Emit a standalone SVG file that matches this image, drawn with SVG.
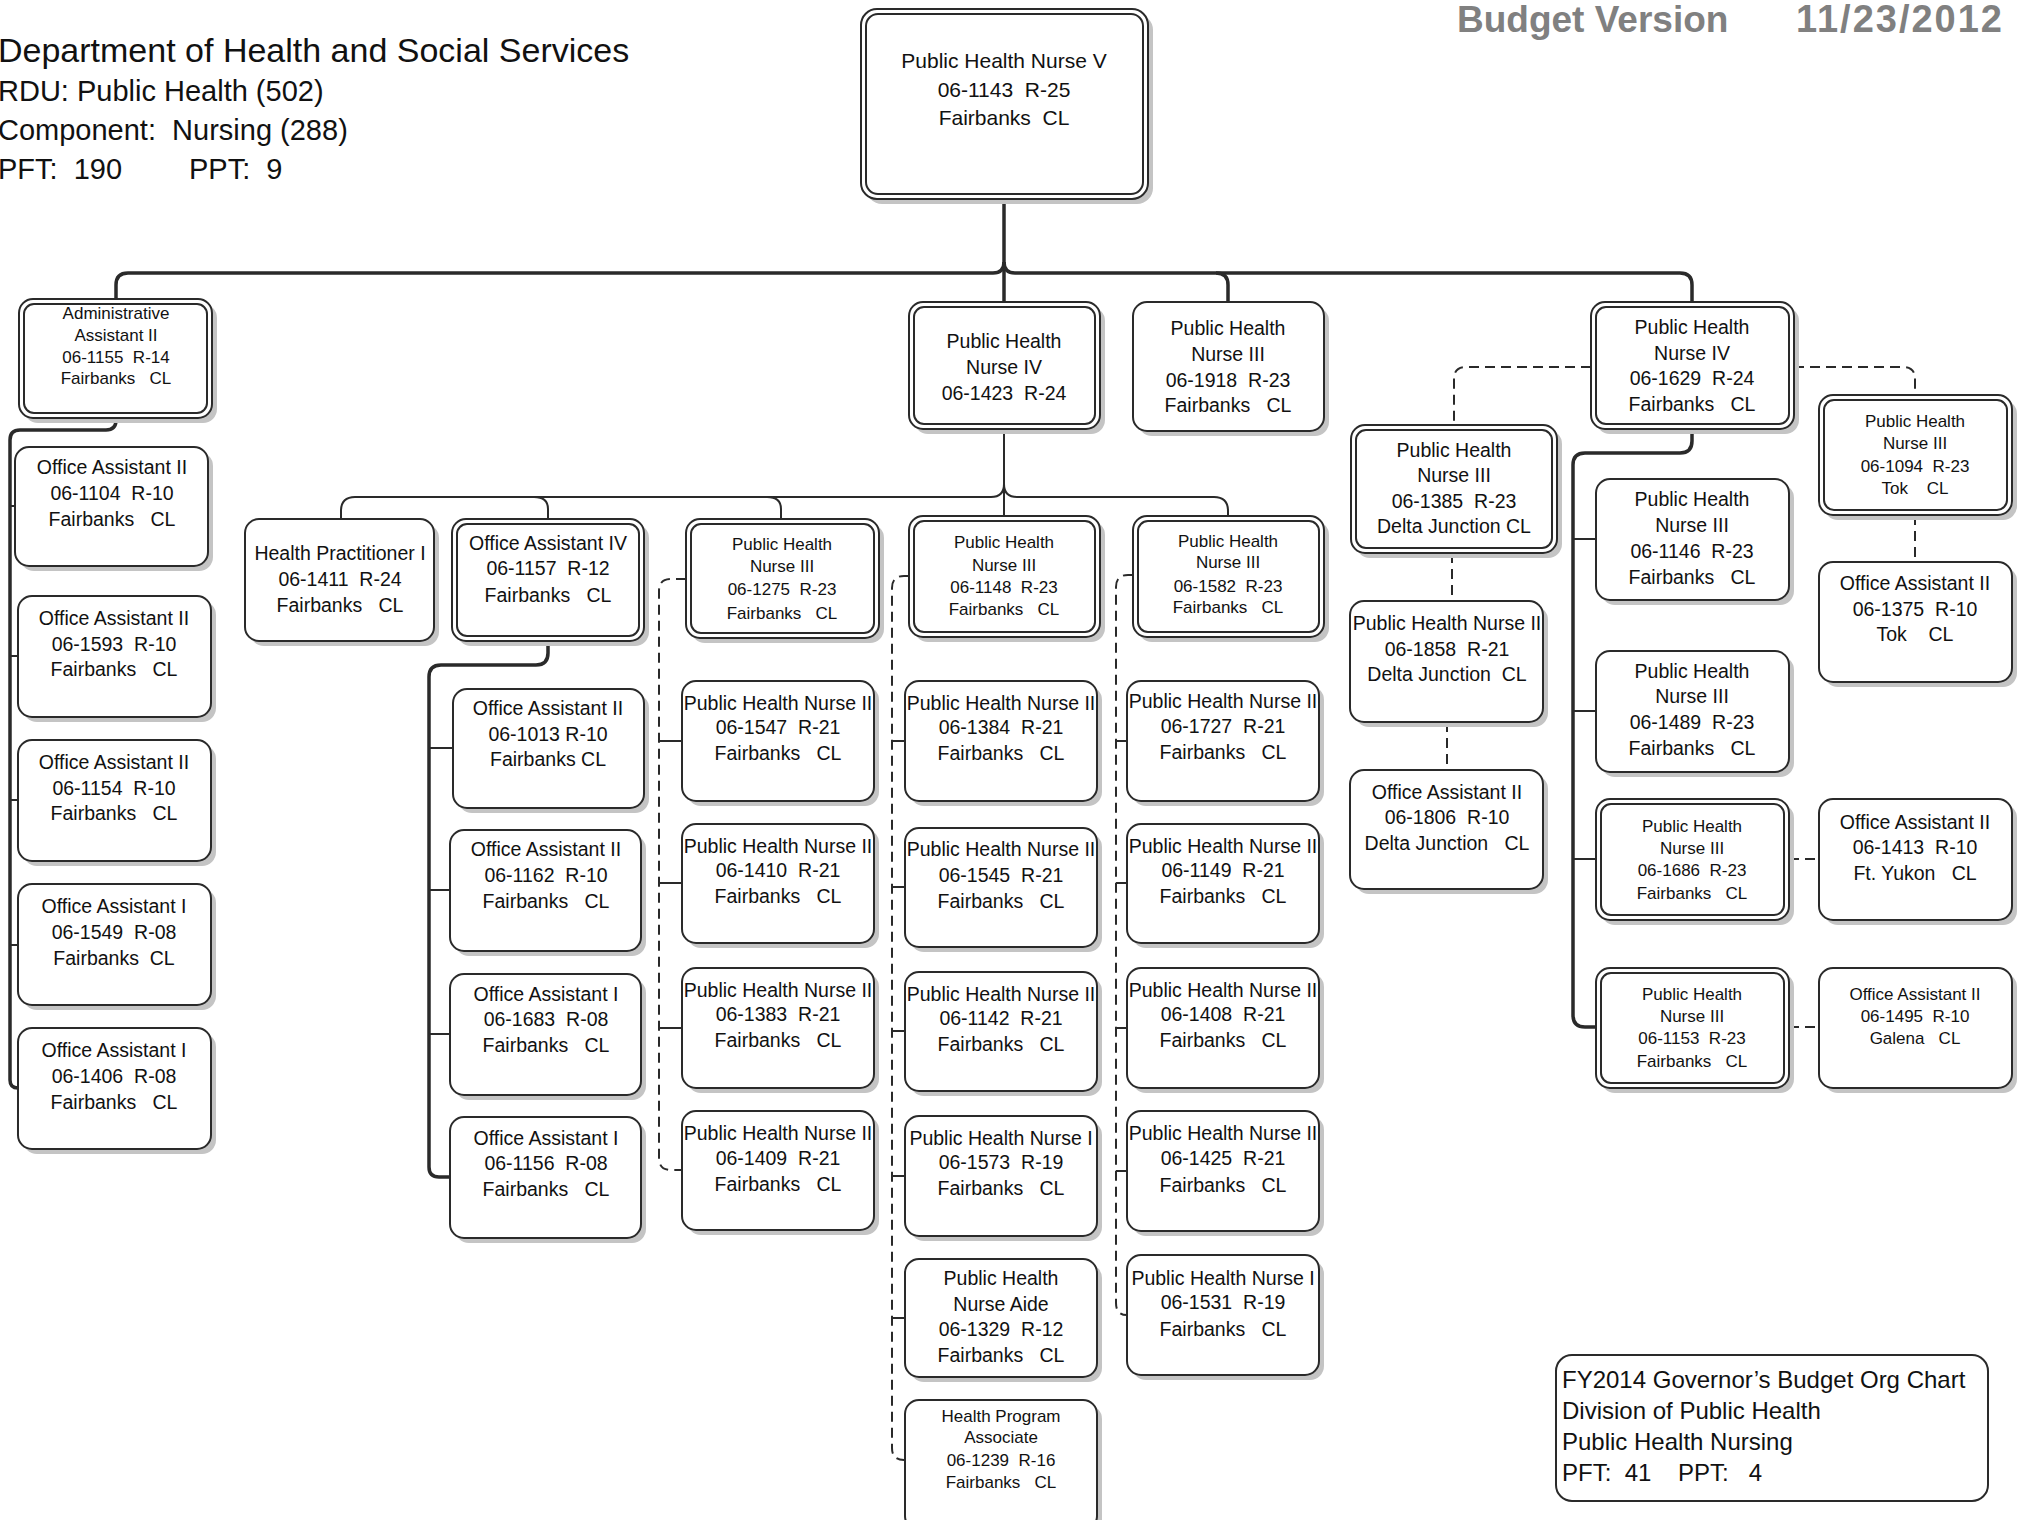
<svg xmlns="http://www.w3.org/2000/svg" width="2018" height="1520" viewBox="0 0 2018 1520">
<style>
.sh{fill:#c4c4c4}
.bx{fill:#fff;stroke:#2a2a2a;stroke-width:2}
.in{fill:none;stroke:#2a2a2a;stroke-width:2}
.t{font-family:"Liberation Sans",Arial,sans-serif;font-size:19.5px;text-anchor:middle;fill:#111;white-space:pre}
.s{font-size:17px}
.b{font-size:21px}
.c{fill:none;stroke:#2a2a2a;stroke-width:2}
.k{stroke-width:3.5}
.d{stroke-dasharray:10 6}
.hd{font-family:"Liberation Sans",Arial,sans-serif;font-size:34px;fill:#111;white-space:pre}
.hs{font-size:29px}
.bv{font-family:"Liberation Sans",Arial,sans-serif;font-size:37px;font-weight:bold;fill:#808080;white-space:pre}
.ib{font-family:"Liberation Sans",Arial,sans-serif;font-size:24px;fill:#111;white-space:pre}
</style>
<rect width="2018" height="1520" fill="#fff"/>

<g id="header">
<text class="hd" x="-2" y="62">Department of Health and Social Services</text>
<text class="hd hs" x="-2" y="101">RDU: Public Health (502)</text>
<text class="hd hs" x="-2" y="140">Component:  Nursing (288)</text>
<text class="hd hs" x="-2" y="179">PFT:  190<tspan x="189">PPT:  9</tspan></text>
<text class="bv" x="1457" y="32">Budget Version</text>
<text class="bv" x="2004" y="32" text-anchor="end" style="font-size:38px;letter-spacing:2px">11/23/2012</text>
</g>

<g id="connectors">
<!-- main -->
<path class="c k" d="M1004,199 V302"/>
<path class="c k" d="M1004,262 Q1004,273 993,273 H128 Q116,273 116,285 V299"/>
<path class="c k" d="M1004,262 Q1004,273 1015,273 H1680 Q1692,273 1692,285 V302"/>
<path class="c k" d="M1216,273 Q1228,273 1228,285 V302"/>
<!-- admin children -->
<path class="c k" d="M116,418 V420 Q116,430 106,430 H20 Q10,430 10,440 V1080 Q10,1088 18,1088"/>
<path class="c" d="M10,506 H15 M10,656 H18 M10,800 H18 M10,945 H18"/>
<!-- PHN IV 1423 children -->
<path class="c" d="M1004,429 V516"/>
<path class="c" d="M1004,484 Q1004,497 991,497 H355 Q341,497 341,511 V519"/>
<path class="c" d="M1004,484 Q1004,497 1017,497 H1214 Q1228,497 1228,511 V516"/>
<path class="c" d="M534,497 Q548,497 548,509 V519"/>
<path class="c" d="M767,497 Q781,497 781,509 V519"/>
<!-- OA IV children -->
<path class="c k" d="M548,641 V653 Q548,665 536,665 H441 Q429,665 429,677 V1167 Q429,1177 439,1177 H450"/>
<path class="c" d="M429,748 H453 M429,890 H450 M429,1034 H450"/>
<!-- dashed columns -->
<path class="c d" d="M686,579 H671 Q659,579 659,591 V1158 Q659,1170 671,1170 H682"/>
<path class="c" d="M659,741 H682 M659,883 H682 M659,1028 H682"/>
<path class="c d" d="M909,576 H904 Q892,576 892,588 V1448 Q892,1460 904,1460 H905"/>
<path class="c" d="M892,741 H905 M892,887 H905 M892,1031 H905 M892,1176 H905 M892,1318 H905"/>
<path class="c d" d="M1133,575 H1128 Q1116,575 1116,587 V1303 Q1116,1315 1127,1315"/>
<path class="c" d="M1116,741 H1127 M1116,883 H1127 M1116,1028 H1127 M1116,1171 H1127"/>
<!-- PHN IV 1629 -->
<path class="c d" d="M1591,367 H1466 Q1454,367 1454,379 V425"/>
<path class="c d" d="M1794,367 H1903 Q1915,367 1915,379 V395"/>
<path class="c d" d="M1452,553 V601"/>
<path class="c d" d="M1447,722 V770"/>
<path class="c d" d="M1915,515 V562"/>
<path class="c k" d="M1692,429 V441 Q1692,453 1680,453 H1585 Q1573,453 1573,465 V1015 Q1573,1027 1585,1027 H1596"/>
<path class="c" d="M1573,539 H1596 M1573,711 H1596 M1573,859 H1596"/>
<path class="c d" d="M1789,859 H1819"/>
<path class="c d" d="M1789,1027 H1819"/>
</g>

<g id="n_phn5_1143">
<rect class="sh" x="866" y="14" width="287" height="190" rx="16"/>
<rect class="bx" x="861" y="9" width="287" height="190" rx="16"/>
<rect class="in" x="866" y="14" width="277" height="180" rx="12"/>
<text class="t b" x="1004" y="68">Public Health Nurse V</text>
<text class="t b" x="1004" y="97">06-1143  R-25</text>
<text class="t b" x="1004" y="125">Fairbanks  CL</text>
</g>

<g id="n_aa2_1155">
<rect class="sh" x="24" y="304" width="193" height="119" rx="14"/>
<rect class="bx" x="19" y="299" width="193" height="119" rx="14"/>
<rect class="in" x="24" y="304" width="183" height="109" rx="10"/>
<text class="t s" x="116" y="319">Administrative</text>
<text class="t s" x="116" y="341">Assistant II</text>
<text class="t s" x="116" y="363">06-1155  R-14</text>
<text class="t s" x="116" y="384">Fairbanks   CL</text>
</g>

<g id="n_phn4_1423">
<rect class="sh" x="914" y="307" width="191" height="127" rx="14"/>
<rect class="bx" x="909" y="302" width="191" height="127" rx="14"/>
<rect class="in" x="914" y="307" width="181" height="117" rx="10"/>
<text class="t" x="1004" y="348">Public Health</text>
<text class="t" x="1004" y="374">Nurse IV</text>
<text class="t" x="1004" y="400">06-1423  R-24</text>
</g>

<g id="n_phn3_1918">
<rect class="sh" x="1138" y="307" width="191" height="129" rx="14"/>
<rect class="bx" x="1133" y="302" width="191" height="129" rx="14"/>
<text class="t" x="1228" y="335">Public Health</text>
<text class="t" x="1228" y="361">Nurse III</text>
<text class="t" x="1228" y="387">06-1918  R-23</text>
<text class="t" x="1228" y="412">Fairbanks   CL</text>
</g>

<g id="n_phn4_1629">
<rect class="sh" x="1596" y="307" width="203" height="127" rx="14"/>
<rect class="bx" x="1591" y="302" width="203" height="127" rx="14"/>
<rect class="in" x="1596" y="307" width="193" height="117" rx="10"/>
<text class="t" x="1692" y="334">Public Health</text>
<text class="t" x="1692" y="360">Nurse IV</text>
<text class="t" x="1692" y="385">06-1629  R-24</text>
<text class="t" x="1692" y="411">Fairbanks   CL</text>
</g>

<g id="n_oa2_1104">
<rect class="sh" x="20" y="452" width="193" height="119" rx="14"/>
<rect class="bx" x="15" y="447" width="193" height="119" rx="14"/>
<text class="t" x="112" y="474">Office Assistant II</text>
<text class="t" x="112" y="500">06-1104  R-10</text>
<text class="t" x="112" y="526">Fairbanks   CL</text>
</g>
<g id="n_oa2_1593">
<rect class="sh" x="23" y="601" width="193" height="121" rx="14"/>
<rect class="bx" x="18" y="596" width="193" height="121" rx="14"/>
<text class="t" x="114" y="625">Office Assistant II</text>
<text class="t" x="114" y="651">06-1593  R-10</text>
<text class="t" x="114" y="676">Fairbanks   CL</text>
</g>
<g id="n_oa2_1154">
<rect class="sh" x="23" y="745" width="193" height="121" rx="14"/>
<rect class="bx" x="18" y="740" width="193" height="121" rx="14"/>
<text class="t" x="114" y="769">Office Assistant II</text>
<text class="t" x="114" y="795">06-1154  R-10</text>
<text class="t" x="114" y="820">Fairbanks   CL</text>
</g>
<g id="n_oa1_1549">
<rect class="sh" x="23" y="889" width="193" height="121" rx="14"/>
<rect class="bx" x="18" y="884" width="193" height="121" rx="14"/>
<text class="t" x="114" y="913">Office Assistant I</text>
<text class="t" x="114" y="939">06-1549  R-08</text>
<text class="t" x="114" y="965">Fairbanks  CL</text>
</g>
<g id="n_oa1_1406">
<rect class="sh" x="23" y="1033" width="193" height="121" rx="14"/>
<rect class="bx" x="18" y="1028" width="193" height="121" rx="14"/>
<text class="t" x="114" y="1057">Office Assistant I</text>
<text class="t" x="114" y="1083">06-1406  R-08</text>
<text class="t" x="114" y="1109">Fairbanks   CL</text>
</g>

<g id="n_hp1_1411">
<rect class="sh" x="250" y="524" width="189" height="122" rx="14"/>
<rect class="bx" x="245" y="519" width="189" height="122" rx="14"/>
<text class="t" x="340" y="560">Health Practitioner I</text>
<text class="t" x="340" y="586">06-1411  R-24</text>
<text class="t" x="340" y="612">Fairbanks   CL</text>
</g>
<g id="n_oa4_1157">
<rect class="sh" x="457" y="524" width="192" height="122" rx="14"/>
<rect class="bx" x="452" y="519" width="192" height="122" rx="14"/>
<rect class="in" x="457" y="524" width="182" height="112" rx="10"/>
<text class="t" x="548" y="550">Office Assistant IV</text>
<text class="t" x="548" y="575">06-1157  R-12</text>
<text class="t" x="548" y="602">Fairbanks   CL</text>
</g>
<g id="n_phn3_1275">
<rect class="sh" x="691" y="524" width="193" height="119" rx="14"/>
<rect class="bx" x="686" y="519" width="193" height="119" rx="14"/>
<rect class="in" x="691" y="524" width="183" height="109" rx="10"/>
<text class="t s" x="782" y="550">Public Health</text>
<text class="t s" x="782" y="572">Nurse III</text>
<text class="t s" x="782" y="595">06-1275  R-23</text>
<text class="t s" x="782" y="619">Fairbanks   CL</text>
</g>
<g id="n_phn3_1148">
<rect class="sh" x="914" y="521" width="191" height="121" rx="14"/>
<rect class="bx" x="909" y="516" width="191" height="121" rx="14"/>
<rect class="in" x="914" y="521" width="181" height="111" rx="10"/>
<text class="t s" x="1004" y="548">Public Health</text>
<text class="t s" x="1004" y="571">Nurse III</text>
<text class="t s" x="1004" y="593">06-1148  R-23</text>
<text class="t s" x="1004" y="615">Fairbanks   CL</text>
</g>
<g id="n_phn3_1582">
<rect class="sh" x="1138" y="521" width="191" height="121" rx="14"/>
<rect class="bx" x="1133" y="516" width="191" height="121" rx="14"/>
<rect class="in" x="1138" y="521" width="181" height="111" rx="10"/>
<text class="t s" x="1228" y="547">Public Health</text>
<text class="t s" x="1228" y="568">Nurse III</text>
<text class="t s" x="1228" y="592">06-1582  R-23</text>
<text class="t s" x="1228" y="613">Fairbanks   CL</text>
</g>

<g id="n_oa2_1013">
<rect class="sh" x="458" y="694" width="191" height="119" rx="14"/>
<rect class="bx" x="453" y="689" width="191" height="119" rx="14"/>
<text class="t" x="548" y="715">Office Assistant II</text>
<text class="t" x="548" y="741">06-1013 R-10</text>
<text class="t" x="548" y="766">Fairbanks CL</text>
</g>
<g id="n_oa2_1162">
<rect class="sh" x="455" y="835" width="191" height="121" rx="14"/>
<rect class="bx" x="450" y="830" width="191" height="121" rx="14"/>
<text class="t" x="546" y="856">Office Assistant II</text>
<text class="t" x="546" y="882">06-1162  R-10</text>
<text class="t" x="546" y="908">Fairbanks   CL</text>
</g>
<g id="n_oa1_1683">
<rect class="sh" x="455" y="979" width="191" height="121" rx="14"/>
<rect class="bx" x="450" y="974" width="191" height="121" rx="14"/>
<text class="t" x="546" y="1001">Office Assistant I</text>
<text class="t" x="546" y="1026">06-1683  R-08</text>
<text class="t" x="546" y="1052">Fairbanks   CL</text>
</g>
<g id="n_oa1_1156">
<rect class="sh" x="455" y="1122" width="191" height="121" rx="14"/>
<rect class="bx" x="450" y="1117" width="191" height="121" rx="14"/>
<text class="t" x="546" y="1145">Office Assistant I</text>
<text class="t" x="546" y="1170">06-1156  R-08</text>
<text class="t" x="546" y="1196">Fairbanks   CL</text>
</g>

<g id="n_phn2_1547">
<rect class="sh" x="687" y="686" width="192" height="120" rx="14"/>
<rect class="bx" x="682" y="681" width="192" height="120" rx="14"/>
<text class="t" x="778" y="710">Public Health Nurse II</text>
<text class="t" x="778" y="734">06-1547  R-21</text>
<text class="t" x="778" y="760">Fairbanks   CL</text>
</g>
<g id="n_phn2_1410">
<rect class="sh" x="687" y="829" width="192" height="119" rx="14"/>
<rect class="bx" x="682" y="824" width="192" height="119" rx="14"/>
<text class="t" x="778" y="853">Public Health Nurse II</text>
<text class="t" x="778" y="877">06-1410  R-21</text>
<text class="t" x="778" y="903">Fairbanks   CL</text>
</g>
<g id="n_phn2_1383">
<rect class="sh" x="687" y="973" width="192" height="120" rx="14"/>
<rect class="bx" x="682" y="968" width="192" height="120" rx="14"/>
<text class="t" x="778" y="997">Public Health Nurse II</text>
<text class="t" x="778" y="1021">06-1383  R-21</text>
<text class="t" x="778" y="1047">Fairbanks   CL</text>
</g>
<g id="n_phn2_1409">
<rect class="sh" x="687" y="1116" width="192" height="119" rx="14"/>
<rect class="bx" x="682" y="1111" width="192" height="119" rx="14"/>
<text class="t" x="778" y="1140">Public Health Nurse II</text>
<text class="t" x="778" y="1165">06-1409  R-21</text>
<text class="t" x="778" y="1191">Fairbanks   CL</text>
</g>

<g id="n_phn2_1384">
<rect class="sh" x="910" y="686" width="192" height="120" rx="14"/>
<rect class="bx" x="905" y="681" width="192" height="120" rx="14"/>
<text class="t" x="1001" y="710">Public Health Nurse II</text>
<text class="t" x="1001" y="734">06-1384  R-21</text>
<text class="t" x="1001" y="760">Fairbanks   CL</text>
</g>
<g id="n_phn2_1545">
<rect class="sh" x="910" y="833" width="192" height="119" rx="14"/>
<rect class="bx" x="905" y="828" width="192" height="119" rx="14"/>
<text class="t" x="1001" y="856">Public Health Nurse II</text>
<text class="t" x="1001" y="882">06-1545  R-21</text>
<text class="t" x="1001" y="908">Fairbanks   CL</text>
</g>
<g id="n_phn2_1142">
<rect class="sh" x="910" y="977" width="192" height="119" rx="14"/>
<rect class="bx" x="905" y="972" width="192" height="119" rx="14"/>
<text class="t" x="1001" y="1001">Public Health Nurse II</text>
<text class="t" x="1001" y="1025">06-1142  R-21</text>
<text class="t" x="1001" y="1051">Fairbanks   CL</text>
</g>
<g id="n_phn1_1573">
<rect class="sh" x="910" y="1121" width="192" height="120" rx="14"/>
<rect class="bx" x="905" y="1116" width="192" height="120" rx="14"/>
<text class="t" x="1001" y="1145">Public Health Nurse I</text>
<text class="t" x="1001" y="1169">06-1573  R-19</text>
<text class="t" x="1001" y="1195">Fairbanks   CL</text>
</g>
<g id="n_phna_1329">
<rect class="sh" x="910" y="1264" width="192" height="118" rx="14"/>
<rect class="bx" x="905" y="1259" width="192" height="118" rx="14"/>
<text class="t" x="1001" y="1285">Public Health</text>
<text class="t" x="1001" y="1311">Nurse Aide</text>
<text class="t" x="1001" y="1336">06-1329  R-12</text>
<text class="t" x="1001" y="1362">Fairbanks   CL</text>
</g>
<g id="n_hpa_1239">
<rect class="sh" x="910" y="1405" width="192" height="130" rx="14"/>
<rect class="bx" x="905" y="1400" width="192" height="130" rx="14"/>
<text class="t s" x="1001" y="1422">Health Program</text>
<text class="t s" x="1001" y="1443">Associate</text>
<text class="t s" x="1001" y="1466">06-1239  R-16</text>
<text class="t s" x="1001" y="1488">Fairbanks   CL</text>
</g>

<g id="n_phn2_1727">
<rect class="sh" x="1132" y="686" width="192" height="120" rx="14"/>
<rect class="bx" x="1127" y="681" width="192" height="120" rx="14"/>
<text class="t" x="1223" y="708">Public Health Nurse II</text>
<text class="t" x="1223" y="733">06-1727  R-21</text>
<text class="t" x="1223" y="759">Fairbanks   CL</text>
</g>
<g id="n_phn2_1149">
<rect class="sh" x="1132" y="829" width="192" height="119" rx="14"/>
<rect class="bx" x="1127" y="824" width="192" height="119" rx="14"/>
<text class="t" x="1223" y="853">Public Health Nurse II</text>
<text class="t" x="1223" y="877">06-1149  R-21</text>
<text class="t" x="1223" y="903">Fairbanks   CL</text>
</g>
<g id="n_phn2_1408">
<rect class="sh" x="1132" y="973" width="192" height="120" rx="14"/>
<rect class="bx" x="1127" y="968" width="192" height="120" rx="14"/>
<text class="t" x="1223" y="997">Public Health Nurse II</text>
<text class="t" x="1223" y="1021">06-1408  R-21</text>
<text class="t" x="1223" y="1047">Fairbanks   CL</text>
</g>
<g id="n_phn2_1425">
<rect class="sh" x="1132" y="1116" width="192" height="120" rx="14"/>
<rect class="bx" x="1127" y="1111" width="192" height="120" rx="14"/>
<text class="t" x="1223" y="1140">Public Health Nurse II</text>
<text class="t" x="1223" y="1165">06-1425  R-21</text>
<text class="t" x="1223" y="1192">Fairbanks   CL</text>
</g>
<g id="n_phn1_1531">
<rect class="sh" x="1132" y="1260" width="192" height="120" rx="14"/>
<rect class="bx" x="1127" y="1255" width="192" height="120" rx="14"/>
<text class="t" x="1223" y="1285">Public Health Nurse I</text>
<text class="t" x="1223" y="1309">06-1531  R-19</text>
<text class="t" x="1223" y="1336">Fairbanks   CL</text>
</g>

<g id="n_phn3_1385">
<rect class="sh" x="1356" y="430" width="206" height="128" rx="14"/>
<rect class="bx" x="1351" y="425" width="206" height="128" rx="14"/>
<rect class="in" x="1356" y="430" width="196" height="118" rx="10"/>
<text class="t" x="1454" y="457">Public Health</text>
<text class="t" x="1454" y="482">Nurse III</text>
<text class="t" x="1454" y="508">06-1385  R-23</text>
<text class="t" x="1454" y="533">Delta Junction CL</text>
</g>
<g id="n_phn2_1858">
<rect class="sh" x="1355" y="606" width="193" height="121" rx="14"/>
<rect class="bx" x="1350" y="601" width="193" height="121" rx="14"/>
<text class="t" x="1447" y="630">Public Health Nurse II</text>
<text class="t" x="1447" y="656">06-1858  R-21</text>
<text class="t" x="1447" y="681">Delta Junction  CL</text>
</g>
<g id="n_oa2_1806">
<rect class="sh" x="1355" y="775" width="193" height="119" rx="14"/>
<rect class="bx" x="1350" y="770" width="193" height="119" rx="14"/>
<text class="t" x="1447" y="799">Office Assistant II</text>
<text class="t" x="1447" y="824">06-1806  R-10</text>
<text class="t" x="1447" y="850">Delta Junction   CL</text>
</g>

<g id="n_phn3_1146">
<rect class="sh" x="1601" y="484" width="193" height="121" rx="14"/>
<rect class="bx" x="1596" y="479" width="193" height="121" rx="14"/>
<text class="t" x="1692" y="506">Public Health</text>
<text class="t" x="1692" y="532">Nurse III</text>
<text class="t" x="1692" y="558">06-1146  R-23</text>
<text class="t" x="1692" y="584">Fairbanks   CL</text>
</g>
<g id="n_phn3_1489">
<rect class="sh" x="1601" y="656" width="193" height="121" rx="14"/>
<rect class="bx" x="1596" y="651" width="193" height="121" rx="14"/>
<text class="t" x="1692" y="678">Public Health</text>
<text class="t" x="1692" y="703">Nurse III</text>
<text class="t" x="1692" y="729">06-1489  R-23</text>
<text class="t" x="1692" y="755">Fairbanks   CL</text>
</g>
<g id="n_phn3_1686">
<rect class="sh" x="1601" y="804" width="193" height="121" rx="14"/>
<rect class="bx" x="1596" y="799" width="193" height="121" rx="14"/>
<rect class="in" x="1601" y="804" width="183" height="111" rx="10"/>
<text class="t s" x="1692" y="832">Public Health</text>
<text class="t s" x="1692" y="854">Nurse III</text>
<text class="t s" x="1692" y="876">06-1686  R-23</text>
<text class="t s" x="1692" y="899">Fairbanks   CL</text>
</g>
<g id="n_phn3_1153">
<rect class="sh" x="1601" y="973" width="193" height="120" rx="14"/>
<rect class="bx" x="1596" y="968" width="193" height="120" rx="14"/>
<rect class="in" x="1601" y="973" width="183" height="110" rx="10"/>
<text class="t s" x="1692" y="1000">Public Health</text>
<text class="t s" x="1692" y="1022">Nurse III</text>
<text class="t s" x="1692" y="1044">06-1153  R-23</text>
<text class="t s" x="1692" y="1067">Fairbanks   CL</text>
</g>

<g id="n_phn3_1094">
<rect class="sh" x="1824" y="400" width="193" height="120" rx="14"/>
<rect class="bx" x="1819" y="395" width="193" height="120" rx="14"/>
<rect class="in" x="1824" y="400" width="183" height="110" rx="10"/>
<text class="t s" x="1915" y="427">Public Health</text>
<text class="t s" x="1915" y="449">Nurse III</text>
<text class="t s" x="1915" y="472">06-1094  R-23</text>
<text class="t s" x="1915" y="494">Tok    CL</text>
</g>
<g id="n_oa2_1375">
<rect class="sh" x="1824" y="567" width="193" height="120" rx="14"/>
<rect class="bx" x="1819" y="562" width="193" height="120" rx="14"/>
<text class="t" x="1915" y="590">Office Assistant II</text>
<text class="t" x="1915" y="616">06-1375  R-10</text>
<text class="t" x="1915" y="641">Tok    CL</text>
</g>
<g id="n_oa2_1413">
<rect class="sh" x="1824" y="804" width="193" height="121" rx="14"/>
<rect class="bx" x="1819" y="799" width="193" height="121" rx="14"/>
<text class="t" x="1915" y="829">Office Assistant II</text>
<text class="t" x="1915" y="854">06-1413  R-10</text>
<text class="t" x="1915" y="880">Ft. Yukon   CL</text>
</g>
<g id="n_oa2_1495">
<rect class="sh" x="1824" y="973" width="193" height="120" rx="14"/>
<rect class="bx" x="1819" y="968" width="193" height="120" rx="14"/>
<text class="t s" x="1915" y="1000">Office Assistant II</text>
<text class="t s" x="1915" y="1022">06-1495  R-10</text>
<text class="t s" x="1915" y="1044">Galena   CL</text>
</g>

<g id="info">
<rect class="bx" x="1556" y="1355" width="432" height="146" rx="16"/>
<text class="ib" x="1562" y="1388">FY2014 Governor’s Budget Org Chart</text>
<text class="ib" x="1562" y="1419">Division of Public Health</text>
<text class="ib" x="1562" y="1450">Public Health Nursing</text>
<text class="ib" x="1562" y="1481">PFT:  41    PPT:   4</text>
</g>
</svg>
